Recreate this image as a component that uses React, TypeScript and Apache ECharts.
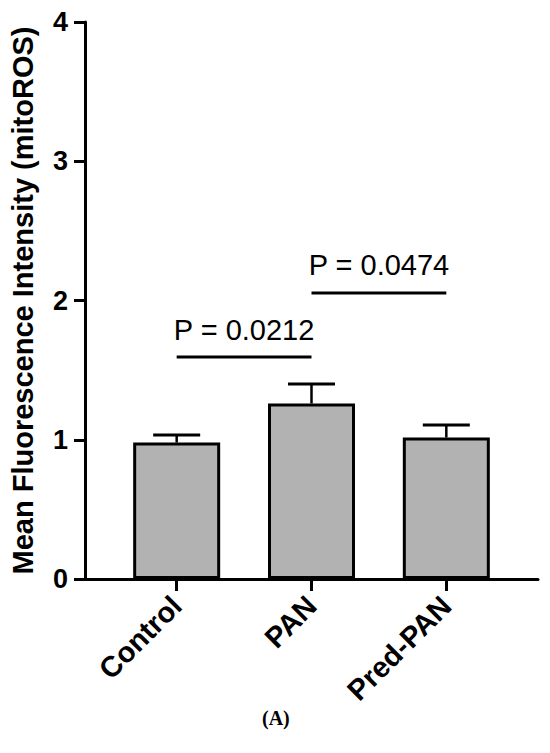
import React, { useEffect, useRef } from "react";
import * as echarts from "echarts";

const categories = ["Control", "PAN", "Pred-PAN"];
const categoryPos = [0, 1, 2];
const means = [0.98, 1.26, 1.016];
const errorTops = [1.034, 1.4, 1.106];
const yTicks = [0, 1, 2, 3, 4];
const compareFrom = [0, 1];
const compareTo = [1, 2];
const compareY = [1.594, 2.054];
const pLabels = ["P = 0.0212", "P = 0.0474"];
const yTitle = "Mean Fluorescence Intensity (mitoROS)";
const caption = "(A)";

const FONT = "'Liberation Sans', Arial, Helvetica, sans-serif";

export default function App() {
  const ref = useRef<HTMLDivElement>(null);
  useEffect(() => {
    document.body.style.margin = "0";
    const chart = echarts.init(ref.current!, null, { renderer: "svg" });
    const barData = categoryPos.map((x, i) => [x, means[i]]);
    const errData = categoryPos.map((x, i) => [x, means[i], errorTops[i]]);
    const brData = compareFrom.map((f, i) => [f, compareTo[i], compareY[i], i]);
    chart.setOption({
      animation: false,
      grid: { left: 81, right: 550 - 538, top: 22, bottom: 753 - 579, containLabel: false },
      xAxis: {
        type: "value",
        min: -0.68,
        max: 2.68,
        splitLine: { show: false },
        axisLine: { show: true, onZero: false, lineStyle: { color: "#000", width: 3 } },
        axisTick: {
          show: true,
          customValues: categoryPos,
          length: 12,
          inside: false,
          lineStyle: { color: "#000", width: 3 },
        },
        axisLabel: {
          customValues: categoryPos,
          rotate: 45,
          margin: 22,
          color: "#000",
          fontFamily: FONT,
          fontWeight: "bold",
          fontSize: 29,
          formatter: (v: number) => categories[Math.round(v)] ?? "",
        },
      },
      yAxis: {
        type: "value",
        min: yTicks[0],
        max: yTicks[yTicks.length - 1],
        interval: 1,
        splitLine: { show: false },
        axisLine: { show: true, onZero: false, lineStyle: { color: "#000", width: 3 } },
        axisTick: { show: true, length: 11, lineStyle: { color: "#000", width: 3 } },
        axisLabel: {
          margin: 17,
          color: "#000",
          fontFamily: FONT,
          fontWeight: "bold",
          fontSize: 27,
        },
        name: yTitle,
        nameLocation: "middle",
        nameGap: 48,
        nameTextStyle: {
          color: "#000",
          fontFamily: FONT,
          fontWeight: "bold",
          fontSize: 29,
        },
      },
      series: [
        {
          type: "custom",
          z: 1,
          data: errData,
          encode: { x: 0, y: [1, 2] },
          renderItem: (params: any, api: any) => {
            const x = api.value(0);
            const p0 = api.coord([x, api.value(1)]);
            const p1 = api.coord([x, api.value(2)]);
            const half = 23.5;
            return {
              type: "group",
              children: [
                {
                  type: "line",
                  shape: { x1: p0[0], y1: p0[1], x2: p1[0], y2: p1[1] },
                  style: { stroke: "#000", lineWidth: 2.5 },
                },
                {
                  type: "line",
                  shape: { x1: p1[0] - half, y1: p1[1], x2: p1[0] + half, y2: p1[1] },
                  style: { stroke: "#000", lineWidth: 3 },
                },
              ],
            };
          },
        },
        {
          type: "bar",
          z: 2,
          data: barData,
          barWidth: 87,
          itemStyle: { color: "#b2b2b2", borderColor: "#000", borderWidth: 3 },
        },
        {
          type: "custom",
          z: 3,
          data: brData,
          encode: { x: [0, 1], y: 2 },
          renderItem: (params: any, api: any) => {
            const a = api.coord([api.value(0), api.value(2)]);
            const b = api.coord([api.value(1), api.value(2)]);
            const idx = api.value(3);
            return {
              type: "group",
              children: [
                {
                  type: "line",
                  shape: { x1: a[0], y1: a[1], x2: b[0], y2: b[1] },
                  style: { stroke: "#000", lineWidth: 3 },
                },
                {
                  type: "text",
                  x: (a[0] + b[0]) / 2,
                  y: a[1] - 13,
                  style: {
                    text: pLabels[idx],
                    fill: "#000",
                    fontFamily: FONT,
                    fontSize: 29,
                    align: "center",
                    verticalAlign: "bottom",
                  },
                },
              ],
            };
          },
        },
      ],
      graphic: [
        {
          type: "text",
          left: 262,
          top: 708,
          style: {
            text: caption,
            fill: "#000",
            fontFamily: "'Liberation Serif', 'Times New Roman', serif",
            fontWeight: "bold",
            fontSize: 20,
          },
        },
      ],
    });
    return () => chart.dispose();
  }, []);
  return (
    <div
      ref={ref}
      style={{ position: "absolute", left: 0, top: 0, width: 550, height: 753 }}
    />
  );
}
